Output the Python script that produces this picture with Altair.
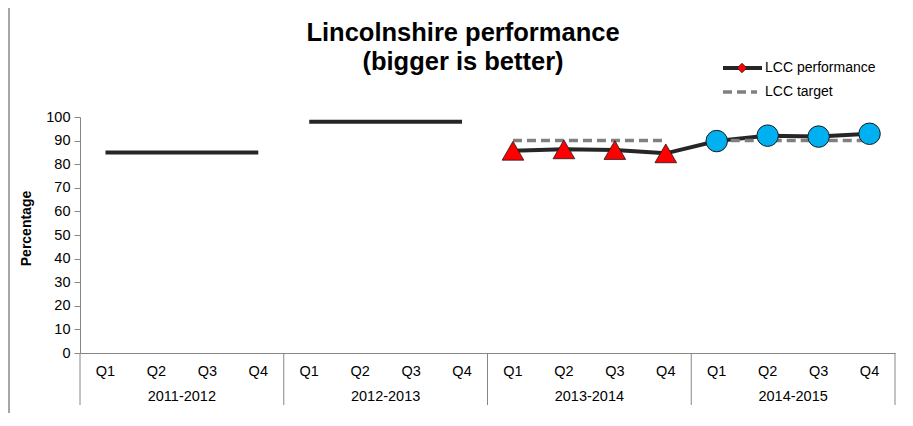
import altair as alt
import pandas as pd

# ---- data ----
years = ["2011-2012", "2012-2013", "2013-2014", "2014-2015"]
quarters = ["Q1", "Q2", "Q3", "Q4"]
performance = [85, 85, 85, 85,
               98, 98, 98, 98,
               85.7, 86.3, 86.0, 84.6,
               89.8, 92.1, 91.7, 92.9]
target = [None, None, None, None,
          None, None, None, None,
          90, 90, 90, 90,
          90, 90, 90, 90]
# line segments for the performance series (years joined in a segment are connected)
perf_segment = ["A", "A", "A", "A", "B", "B", "B", "B",
                "C", "C", "C", "C", "C", "C", "C", "C"]
marker_by_year = {"2013-2014": "triangle", "2014-2015": "circle"}
legend_labels = ["LCC performance", "LCC target"]
title_lines = ["Lincolnshire performance", "(bigger is better)"]
y_ticks = [0, 10, 20, 30, 40, 50, 60, 70, 80, 90, 100]

rows = []
for yi, yr in enumerate(years):
    for qi, q in enumerate(quarters):
        i = yi * 4 + qi
        rows.append({
            "year": yr, "quarter": q, "pos": i + 0.5,
            "performance": performance[i], "target": target[i],
            "seg": perf_segment[i],
            "marker": marker_by_year.get(yr, "none"),
        })
df = pd.DataFrame(rows)
years_df = pd.DataFrame({"year": years, "pos": [i * 4 + 2 for i in range(len(years))]})
sep_df = pd.DataFrame({"pos": [i * 4 for i in range(len(years) + 1)]})
one = pd.DataFrame({"k": [0]})

FONT = "Liberation Sans"
GRAY = "#868686"
W, H = 815, 236

xs = alt.Scale(domain=[0, 16], nice=False, zero=False)
ys = alt.Scale(domain=[0, 100], nice=False)

x_axis = alt.Axis(labels=False, ticks=False, grid=False, title=None,
                  domainColor=GRAY, domainWidth=1)
y_axis = alt.Axis(values=y_ticks, labelOverlap=False, grid=False,
                  domainColor=GRAY, tickColor=GRAY,
                  tickSize=6, labelFontSize=14.5, labelColor="#000000", labelFont=FONT,
                  labelPadding=4, title="Percentage", titleFont=FONT, titleFontSize=14,
                  titleFontWeight="bold", titleColor="#000000",
                  titleX=-54, titleY=111, titleBaseline="middle", titleAlign="center",
                  titleAngle=-90)


def X():
    return alt.X("pos:Q", scale=xs, axis=x_axis)


def Y(field):
    return alt.Y(field, scale=ys, axis=y_axis)


base = alt.Chart(df)

perf_line = base.mark_line(color="#262626", strokeWidth=4).encode(
    x=X(), y=Y("performance:Q"), detail="seg:N")

target_line = base.transform_filter("datum.target != null").mark_line(
    color="#808080", strokeWidth=3.5, strokeDash=[9, 5]
).encode(x=X(), y=Y("target:Q"), detail="year:N")

triangles = base.transform_filter("datum.marker == 'triangle'").mark_point(
    shape="triangle-up", filled=True, size=470, color="#FF0000",
    stroke="#1a1a1a", strokeWidth=0.8, opacity=1
).encode(x=X(), y=Y("performance:Q"))

circles = base.transform_filter("datum.marker == 'circle'").mark_point(
    shape="circle", filled=True, size=462, color="#00B0F0",
    stroke="#1a1a1a", strokeWidth=1, opacity=1
).encode(x=X(), y=Y("performance:Q"))

q_labels = base.mark_text(font=FONT, fontSize=14.5, color="#000000", baseline="middle").encode(
    x=X(), y=alt.value(254.5), text="quarter:N")

year_labels = alt.Chart(years_df).mark_text(font=FONT, fontSize=14.5, color="#000000",
                                            baseline="middle").encode(
    x=X(), y=alt.value(280), text="year:N")

separators = alt.Chart(sep_df).mark_rule(color=GRAY, strokeWidth=1).encode(
    x=X(), y=alt.value(H), y2=alt.value(288))

# ---- title ----
title1 = alt.Chart(one).mark_text(font=FONT, fontSize=25.5, fontWeight="bold",
                                  color="#000000", baseline="middle", align="center",
                                  text=title_lines[0]).encode(
    x=alt.value(383), y=alt.value(-84))
title2 = alt.Chart(one).mark_text(font=FONT, fontSize=25.5, fontWeight="bold",
                                  color="#000000", baseline="middle", align="center",
                                  text=title_lines[1]).encode(
    x=alt.value(383), y=alt.value(-55))

# ---- custom legend ----
leg_perf_line = alt.Chart(one).mark_rule(color="#262626", strokeWidth=4).encode(
    x=alt.value(643), x2=alt.value(682), y=alt.value(-49))
leg_perf_pt = alt.Chart(one).mark_point(
    shape="diamond", filled=True, size=90, color="#FF0000", stroke="#1a1a1a",
    strokeWidth=0.8, opacity=1).encode(x=alt.value(662), y=alt.value(-49))
leg_target_line = alt.Chart(one).mark_rule(
    color="#808080", strokeWidth=3.5, strokeDash=[9, 5]).encode(
    x=alt.value(643), x2=alt.value(677), y=alt.value(-25))
leg_text1 = alt.Chart(one).mark_text(font=FONT, fontSize=14, align="left",
                                     baseline="middle", color="#000000",
                                     text=legend_labels[0]).encode(
    x=alt.value(685), y=alt.value(-49))
leg_text2 = alt.Chart(one).mark_text(font=FONT, fontSize=14, align="left",
                                     baseline="middle", color="#000000",
                                     text=legend_labels[1]).encode(
    x=alt.value(685), y=alt.value(-25))

# outer chart border (left edge)
border = alt.Chart(one).mark_rule(color="#a6a6a6", strokeWidth=2).encode(
    x=alt.value(-71), y=alt.value(-109), y2=alt.value(310))

chart = alt.layer(
    perf_line, border, separators, target_line, triangles, circles,
    q_labels, year_labels, title1, title2,
    leg_perf_line, leg_target_line, leg_perf_pt, leg_text1, leg_text2,
).properties(
    width=W, height=H,
    autosize=alt.AutoSizeParams(type="none"),
    padding={"left": 72, "top": 109, "right": 10, "bottom": 60},
    background="white",
).configure_view(stroke=None)

chart.save("out.html", embed_options={"renderer": "svg", "actions": False})
